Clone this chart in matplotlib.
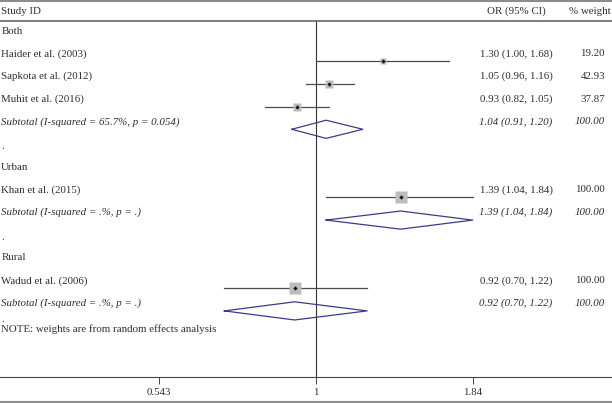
"""
Forest plot of odds ratios by setting (Both / Urban / Rural).
"""

import numpy as np
import matplotlib.pyplot as plt
from matplotlib.lines import Line2D
from matplotlib.ticker import FixedLocator, FixedFormatter, NullLocator

# ---- data -------------------------------------------------------------
labels = [
    "Both", "Haider et al. (2003)", "Sapkota et al. (2012)", "Muhit et al. (2016)",
    "Subtotal (I-squared = 65.7%, p = 0.054)", ".",
    "Urban", "Khan et al. (2015)", "Subtotal (I-squared = .%, p = .)", ".",
    "Rural", "Wadud et al. (2006)", "Subtotal (I-squared = .%, p = .)",
]
row_kind = ["head", "study", "study", "study", "sub", "dot",
            "head", "study", "sub", "dot",
            "head", "study", "sub"]
or_est = [None, 1.30, 1.05, 0.93, 1.04, None, None, 1.39, 1.39, None, None, 0.92, 0.92]
ci_low = [None, 1.00, 0.96, 0.82, 0.91, None, None, 1.04, 1.04, None, None, 0.70, 0.70]
ci_high = [None, 1.68, 1.16, 1.05, 1.20, None, None, 1.84, 1.84, None, None, 1.22, 1.22]
weights = [None, 19.20, 42.93, 37.87, 100.00, None, None, 100.00, 100.00, None, None, 100.00, 100.00]
tick_values = [0.543, 1, 1.84]
tick_labels = ["0.543", "1", "1.84"]

# ---- style ------------------------------------------------------------
plt.rcParams["font.family"] = ["Liberation Serif", "DejaVu Serif"]
FS = 7.8
TXT = "#2e2e2e"
DIAMOND = "#3c3c8c"
W, H = 612, 403

fig = plt.figure(figsize=(W / 100, H / 100), dpi=100)
ax_top_px, ax_bot_px = 21, 377
ax = fig.add_axes([0, (H - ax_bot_px) / H, 1, (ax_bot_px - ax_top_px) / H])

# x: log scale, 1 sits at pixel 316, 257 px per ln unit
px_per_ln = 257.0
ax.set_xscale("log")
ax.set_xlim(np.exp(-316 / px_per_ln), np.exp((W - 316) / px_per_ln))

# y: row units, row 0 at pixel 31, 22.7 px per row
row0, step = 31.0, 22.7
ax.set_ylim((ax_bot_px - row0) / step, (ax_top_px - row0) / step)

for s in ["left", "right"]:
    ax.spines[s].set_visible(False)
ax.spines["top"].set_color("#666666")
ax.spines["top"].set_linewidth(1.2)
ax.spines["bottom"].set_color("#444444")
ax.spines["bottom"].set_linewidth(0.8)
ax.yaxis.set_major_locator(NullLocator())
ax.xaxis.set_major_locator(FixedLocator(tick_values))
ax.xaxis.set_major_formatter(FixedFormatter(tick_labels))
ax.xaxis.set_minor_locator(NullLocator())
ax.tick_params(axis="x", direction="out", length=5, width=0.7, color="#444444",
               labelsize=FS, labelcolor=TXT, pad=3)

# null line
ax.axvline(1, color="#333333", lw=0.8, zorder=1)

# header
yt = ax.get_yaxis_transform()
hdr_y = (11 - row0) / step
ax.text(0.002, hdr_y, "Study ID", transform=yt, ha="left", va="center",
        fontsize=FS, color=TXT, clip_on=False)
ax.text(516 / W, hdr_y, "OR (95% CI)", transform=yt, ha="center", va="center",
        fontsize=FS, color=TXT, clip_on=False)
ax.text(611 / W, hdr_y, "% weight", transform=yt, ha="right", va="center",
        fontsize=FS, color=TXT, clip_on=False)

marker_off = 0.33
dia_half = 0.40
for i, (lab, kind) in enumerate(zip(labels, row_kind)):
    style = "italic" if kind == "sub" else "normal"
    ty = i + 0.1 if kind == "dot" else i
    ax.text(0.002, ty, lab, transform=yt, ha="left", va="center",
            fontsize=FS, color=TXT, style=style)
    if or_est[i] is None:
        continue
    est, lo, hi, w = or_est[i], ci_low[i], ci_high[i], weights[i]
    ym = i + marker_off
    if kind == "study":
        ax.plot([lo, hi], [ym, ym], color="#4a4a4a", lw=0.9, zorder=2)
        ax.plot(est, ym, marker="s", ms=8.6 * np.sqrt(w / 100), color="#bdbdbd",
                mec="none", zorder=3)
        ax.plot(est, ym, marker="D", ms=2.2, color="#111111", mec="none", zorder=4)
    else:
        xs = [lo, est, hi, est, lo]
        ys = [ym, ym - dia_half, ym, ym + dia_half, ym]
        ax.plot(xs, ys, color=DIAMOND, lw=0.9, zorder=3)
    ax.text(516 / W, i, f"{est:.2f} ({lo:.2f}, {hi:.2f})", transform=yt,
            ha="center", va="center", fontsize=FS, color=TXT, style=style)
    ax.text(605 / W, i, f"{w:.2f}", transform=yt, ha="right", va="center",
            fontsize=FS, color=TXT, style=style)

# trailing dot + note
ax.text(0.002, 12.7, ".", transform=yt, ha="left", va="center",
        fontsize=FS, color=TXT)
ax.text(0.002, 13.15, "NOTE: weights are from random effects analysis",
        transform=yt, ha="left", va="center", fontsize=FS, color=TXT)

# outer frame lines (top and bottom)
for ypx in (1, 402):
    fig.add_artist(Line2D([0, 1], [1 - ypx / H] * 2, transform=fig.transFigure,
                          color="#8c8c8c", lw=1.5))

fig.savefig("out.png", dpi=100)
